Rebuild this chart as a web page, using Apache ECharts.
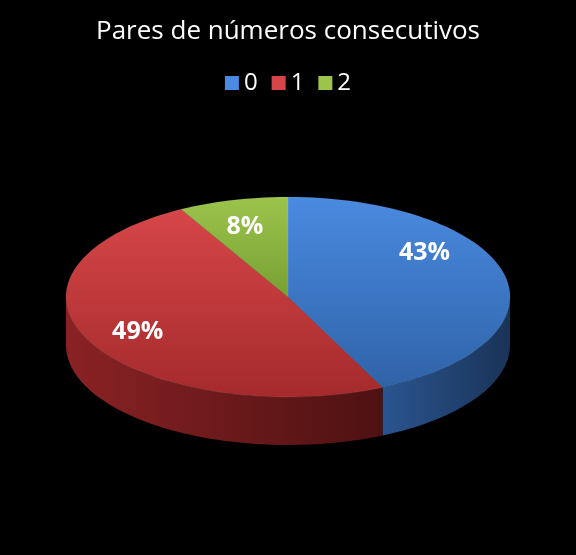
<!DOCTYPE html>
<html><head><meta charset="utf-8">
<script src="https://cdn.jsdelivr.net/npm/echarts@6/dist/echarts.min.js"></script>
<style>html,body{margin:0;background:#000}#c{width:576px;height:555px}</style>
</head><body><div id="c"></div>
<script>
const categories = ['0', '1', '2'];
const values = [43, 49, 8];
const topColors = [['#4a8ae0', '#2f63a8'], ['#d64648', '#a52a2c'], ['#9cc44c', '#77a032']];
const sideColors = [['#2a5590', '#1a3358'], ['#8a2224', '#4e1112'], ['#5f7f27', '#3a4f16']];

const CX = 288, CY = 297, RX = 222, RY = 100, DEPTH = 48;
const total = values.reduce((a, b) => a + b, 0);
const starts = [];
let acc = 0;
values.forEach(v => { starts.push(acc / total * 360); acc += v; });

function pt(deg, dy) {
  const r = deg * Math.PI / 180;
  return [CX + RX * Math.sin(r), CY - RY * Math.cos(r) + (dy || 0)];
}
function arc(a0, a1, dy) {
  const pts = [];
  const n = Math.max(2, Math.ceil((a1 - a0) / 2));
  for (let i = 0; i <= n; i++) pts.push(pt(a0 + (a1 - a0) * i / n, dy));
  return pts;
}
const labelF = [0.63, 0.76, 0.78];
const labelDy = [-30, 0, 5];
function makeRender(idx) {
  return function (params, api) {
    const a0 = starts[idx], a1 = starts[idx] + api.value(0) / total * 360;
    const children = [];
    const s0 = Math.max(a0, 90), s1 = Math.min(a1, 270);
    if (s1 > s0) {
      const top = arc(s0, s1, 0), bot = arc(s0, s1, DEPTH).reverse();
      children.push({ type: 'polygon', shape: { points: top.concat(bot) },
        style: { fill: new echarts.graphic.LinearGradient(0, 0, 1, 0, [
          { offset: 0, color: sideColors[idx][0] }, { offset: 1, color: sideColors[idx][1] }]) } });
    }
    const face = [[CX, CY]].concat(arc(a0, a1, 0));
    children.push({ type: 'polygon', shape: { points: face },
      style: { fill: new echarts.graphic.LinearGradient(0, 0, 0, 1, [
        { offset: 0, color: topColors[idx][0] }, { offset: 1, color: topColors[idx][1] }]),
        stroke: 'rgba(255,255,255,0.15)', lineWidth: 0.5 } });
    const mid = (a0 + a1) / 2;
    const f = labelF[idx];
    const r = mid * Math.PI / 180;
    const lx = CX + RX * f * Math.sin(r), ly = CY - RY * f * Math.cos(r) + labelDy[idx];
    children.push({ type: 'text', x: lx, y: ly, style: { text: Math.round(api.value(0)) + '%',
      fill: '#fff', font: 'bold 25px "Open Sans", sans-serif', align: 'center', verticalAlign: 'middle' } });
    return { type: 'group', children };
  };
}
const option = {
  backgroundColor: '#000',
  title: { text: 'Pares de números consecutivos', left: 'center', top: 14,
    textStyle: { color: '#fff', fontSize: 26, fontWeight: 'normal', fontFamily: 'Open Sans' } },
  legend: { top: 66, left: 'center', itemWidth: 14, itemHeight: 14, icon: 'rect', itemGap: 14,
    textStyle: { color: '#fff', fontSize: 24, fontFamily: 'Open Sans' }, data: categories },
  color: topColors.map(c => c[0]),
  series: categories.map((name, i) => ({
    type: 'custom', name, renderItem: makeRender(i), data: [[values[i]]],
    coordinateSystem: 'none', silent: true
  }))
};
echarts.init(document.getElementById('c')).setOption(option);
</script></body></html>
